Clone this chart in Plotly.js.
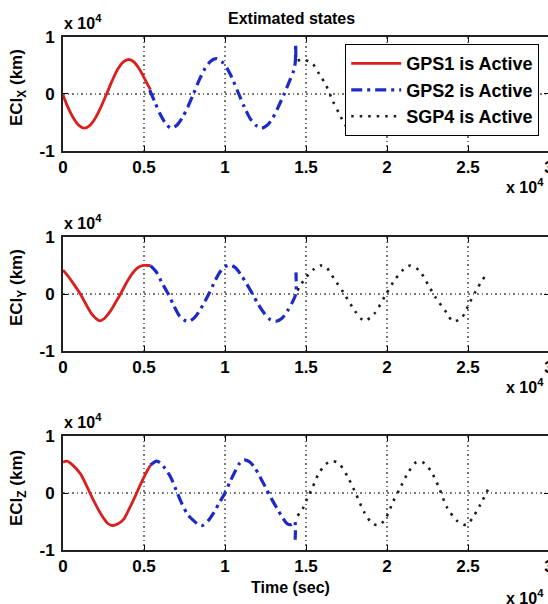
<!DOCTYPE html>
<html>
<head>
<meta charset="utf-8">
<script src="https://cdn.plot.ly/plotly-3.0.1.min.js"></script>
<style>
html,body{margin:0;padding:0;overflow:hidden;background:#fff;}
#chart{width:570px;height:604px;}
</style>
</head>
<body>
<div id="chart"></div>
<script>
// Time (s) and ECI position (km)
const xGps1T = [0, 300, 640, 980, 1320, 1660, 2000, 2340, 2690, 3030, 3370, 3710, 4060, 4390, 4730, 5070, 5250, 5400];
const xGps1V = [-200, -2300, -4200, -5500, -6000, -5500, -4200, -2300, 0, 2300, 4300, 5600, 6050, 5600, 4300, 2500, 1500, 800];
const xGps2T = [5350, 5680, 6010, 6340, 6680, 7020, 7360, 7700, 8050, 8400, 8750, 9100, 9460, 9800, 10150, 10500, 10850, 11200, 11550, 11900, 12250, 12600, 12950, 13300, 13650, 14000, 14250, 14340, 14360, 14380];
const xGps2V = [700, -1500, -3600, -5200, -6000, -5500, -4200, -2300, 0, 2400, 4400, 5700, 6200, 5700, 4400, 2400, 0, -2300, -4300, -5500, -6000, -5500, -4200, -2200, 0, 2400, 4200, 5600, 8800, 5800];
const xSgp4T = [14480, 14900, 15410, 15820, 16240, 16650, 17060, 17470, 17800, 18150, 18500, 18850, 19200, 19550, 19900, 20250, 20600, 20950, 21300, 21650, 22000, 22350, 22700, 23050, 23400, 23750, 24100, 24450, 24800, 25150, 25500, 25850, 26250];
const xSgp4V = [5900, 6000, 5300, 3500, 1500, -1200, -3500, -5600, -5800, -5200, -4000, -2200, 0, 2300, 4300, 5600, 6000, 5600, 4300, 2300, 0, -2300, -4200, -5200, -5500, -5200, -4000, -2200, 0, 2300, 4300, 5600, 6000];

const yGps1T = [0, 300, 600, 1070, 1400, 1750, 2000, 2270, 2550, 2900, 3200, 3550, 3900, 4250, 4600, 4900, 5200, 5400];
const yGps1V = [4200, 3200, 2000, 0, -1700, -3400, -4200, -4700, -4300, -3100, -1700, 0, 1900, 3500, 4600, 5000, 5000, 5000];
const yGps2T = [5400, 5750, 6100, 6500, 6850, 7200, 7500, 7770, 8100, 8500, 9000, 9400, 9700, 10000, 10300, 10650, 11000, 11350, 11700, 12050, 12400, 12750, 13130, 13500, 13850, 14200, 14370, 14380];
const yGps2V = [5000, 3900, 2000, 0, -2100, -3900, -4600, -4800, -4200, -2600, 0, 2400, 3900, 4800, 5100, 4600, 3300, 1700, 0, -1800, -3300, -4400, -4800, -4300, -3000, -1200, 0, 3800];
const ySgp4T = [14480, 14700, 15000, 15410, 15870, 16240, 16750, 17370, 18000, 18600, 19200, 19950, 20460, 20980, 21430, 22000, 22500, 23000, 23660, 24070, 24600, 25100, 25500, 25900, 26250];
const ySgp4V = [600, 1700, 2900, 4200, 5000, 4700, 2600, 0, -2900, -4700, -3500, 0, 2400, 4200, 5000, 4100, 1800, -600, -3200, -4800, -4200, -1500, 600, 2500, 3800];

const zGps1T = [0, 250, 600, 1070, 1500, 1900, 2200, 2500, 2750, 3030, 3400, 3750, 4100, 4470, 4750, 5000, 5200, 5400];
const zGps1V = [5400, 5600, 4900, 3400, 1000, -1400, -3000, -4400, -5300, -5700, -5400, -4600, -2700, -500, 1300, 2800, 3900, 4900];
const zGps2T = [5400, 5770, 6000, 6300, 6640, 7000, 7360, 7700, 8080, 8350, 8600, 8950, 9320, 9650, 10000, 10330, 10660, 10900, 11170, 11500, 11800, 12150, 12500, 12850, 13230, 13550, 13850, 14100, 14300, 14330];
const zGps2V = [4900, 5600, 5300, 4300, 2800, 400, -2000, -3800, -4900, -5500, -5700, -4900, -3400, -1700, 0, 2100, 4000, 5200, 5800, 5500, 4600, 2900, 1000, -900, -2800, -4300, -5400, -5500, -5000, -8200];
const zSgp4T = [14480, 14790, 15100, 15410, 15780, 16240, 16650, 17060, 17580, 18090, 18600, 19120, 19540, 19950, 20360, 20780, 21290, 21800, 22200, 22700, 23200, 23700, 24330, 24900, 25360, 25880, 26300];
const zSgp4V = [-4000, -2800, -800, 1000, 3400, 5100, 5600, 5100, 2800, -200, -3400, -5400, -5600, -4300, -1600, 700, 3500, 5400, 5400, 3900, 1000, -2500, -4900, -5600, -4000, -1400, 1000];

const seriesNames = ['GPS1 is Active', 'GPS2 is Active', 'SGP4 is Active'];
const xTickVals = [0, 5000, 10000, 15000, 20000, 25000, 30000];
const xTickText = ['0', '0.5', '1', '1.5', '2', '2.5', '3'];
const yTickVals = [-10000, 0, 10000];
const yTickText = ['-1', '0', '1'];
const panelTitles = ['ECI<sub>X</sub> (km)', 'ECI<sub>Y</sub> (km)', 'ECI<sub>Z</sub> (km)'];

const FONT = 'Liberation Sans, Arial, sans-serif';
const styles = [
  {color: '#d9201f', width: 2.8, dash: 'solid'},
  {color: '#1c2bc4', width: 3.2, dash: '11px,5px,3px,5px'},
  {color: '#1e1e1e', width: 2.6, dash: '2.5px,6px'}
];

const panels = [
  [[xGps1T, xGps1V], [xGps2T, xGps2V], [xSgp4T, xSgp4V]],
  [[yGps1T, yGps1V], [yGps2T, yGps2V], [ySgp4T, ySgp4V]],
  [[zGps1T, zGps1V], [zGps2T, zGps2V], [zSgp4T, zSgp4V]]
];

const traces = [];
panels.forEach((segs, p) => {
  segs.forEach((s, k) => {
    traces.push({
      type: 'scatter', mode: 'lines',
      x: s[0], y: s[1],
      xaxis: p === 0 ? 'x' : 'x' + (p + 1),
      yaxis: p === 0 ? 'y' : 'y' + (p + 1),
      name: seriesNames[k],
      legendgroup: 'g' + k,
      showlegend: p === 0,
      line: {color: styles[k].color, width: styles[k].width, dash: styles[k].dash, shape: 'spline', smoothing: 0.8},
      hoverinfo: 'skip'
    });
  });
});

// plot area: x 63..549 px, y 37..550 px
const domains = [[0.7778, 1.0], [0.3879, 0.6101], [0.0, 0.2222]];
const tickF = {family: FONT, size: 17, color: '#000', weight: 'bold'};
function xAxis(p) {
  return {
    domain: [0, 1], anchor: p === 0 ? 'y' : 'y' + (p + 1),
    range: [0, 30000], tickmode: 'array', tickvals: xTickVals, ticktext: xTickText,
    ticks: 'inside', ticklen: 5, tickwidth: 1, tickcolor: '#000',
    showline: true, linecolor: '#222', linewidth: 2, mirror: 'ticks',
    showgrid: true, gridcolor: '#777', griddash: '1.5px,3px', gridwidth: 1.2,
    zeroline: false, ticklabelstandoff: 0,
    tickfont: tickF
  };
}
function yAxis(p) {
  return {
    domain: domains[p], anchor: p === 0 ? 'x' : 'x' + (p + 1),
    range: [-10000, 10000], tickmode: 'array', tickvals: yTickVals, ticktext: yTickText,
    ticks: 'inside', ticklen: 5, tickwidth: 1, tickcolor: '#000',
    showline: true, linecolor: '#222', linewidth: 2, mirror: 'ticks',
    showgrid: true, gridcolor: '#777', griddash: '1.5px,3px', gridwidth: 1.2,
    zeroline: false, ticklabelstandoff: 3,
    tickfont: tickF
  };
}

const W = 570, H = 604, L = 63, R = 549, T = 37, B = 550;
const px = v => (v - L) / (R - L);
const py = v => (B - v) / (B - T);
const f = (s) => ({family: FONT, size: s, color: '#000', weight: 'bold'});

const annotations = [
  {text: 'Extimated states', x: px(291), y: py(18), xanchor: 'center', yanchor: 'middle', font: f(16)},
  {text: 'Time (sec)', x: px(290), y: py(588), xanchor: 'center', yanchor: 'middle', font: f(16)}
];
[22, 222, 421].forEach(v => annotations.push({text: 'x 10<sup>4</sup>', x: px(62), y: py(v), xanchor: 'left', yanchor: 'middle', font: f(16)}));
[186, 386, 597].forEach(v => annotations.push({text: 'x 10<sup>4</sup>', x: px(504), y: py(v), xanchor: 'left', yanchor: 'middle', font: f(16)}));
[88, 288, 488].forEach((v, i) => annotations.push({text: panelTitles[i], x: px(18), y: py(v), xanchor: 'center', yanchor: 'middle', textangle: -90, font: f(17)}));
annotations.forEach(a => { a.xref = 'paper'; a.yref = 'paper'; a.showarrow = false; });

const layout = {
  width: W, height: H,
  margin: {l: L, r: W - R, t: T, b: H - B, pad: 0},
  paper_bgcolor: '#fff', plot_bgcolor: '#fff',
  font: {family: FONT, size: 15, color: '#000', weight: 'bold'},
  showlegend: true,
  legend: {
    x: px(345), y: py(44), xanchor: 'left', yanchor: 'top',
    bgcolor: '#fff', bordercolor: '#000', borderwidth: 1.2,
    font: f(18), itemwidth: 50, tracegroupgap: 0
  },
  xaxis: xAxis(0), yaxis: yAxis(0),
  xaxis2: xAxis(1), yaxis2: yAxis(1),
  xaxis3: xAxis(2), yaxis3: yAxis(2),
  annotations: annotations
};

Plotly.newPlot('chart', traces, layout, {staticPlot: true, displayModeBar: false});
</script>
</body>
</html>
